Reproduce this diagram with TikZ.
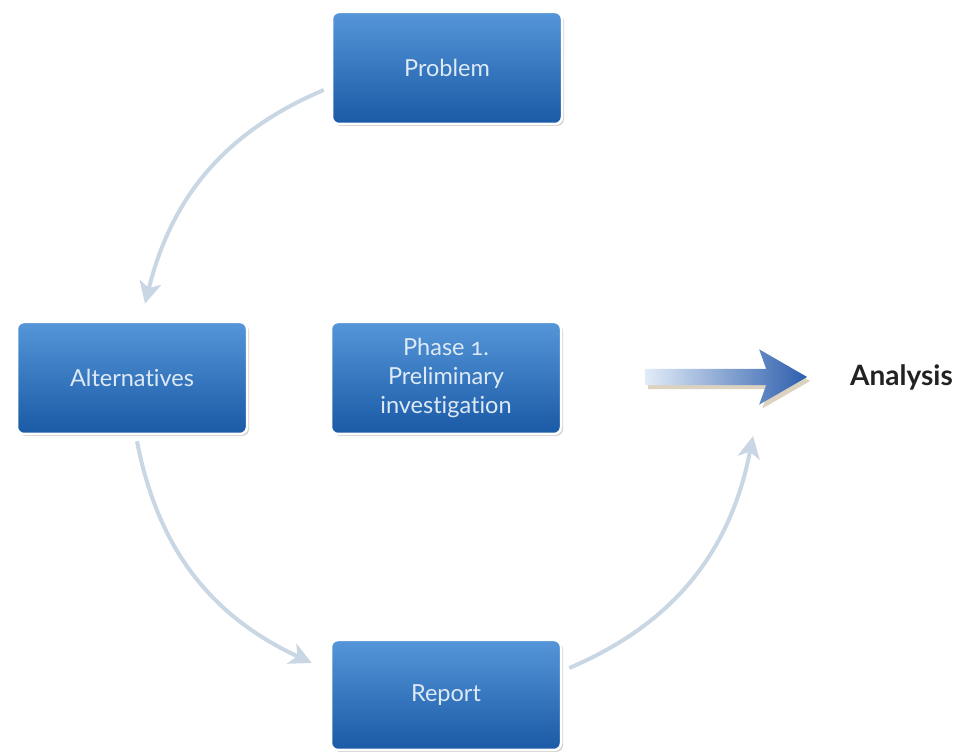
\documentclass[tikz,border=0pt]{standalone}
\usepackage{fontspec}
\setmainfont[Numbers=OldStyle, Ligatures=NoCommon]{Lato}
\usetikzlibrary{arrows.meta,shadows,shapes.arrows,positioning}

\definecolor{boxtop}{HTML}{5595D8}
\definecolor{boxmid}{HTML}{2D71C1}
\definecolor{boxbot}{HTML}{1A5AA6}
\definecolor{boxtext}{HTML}{DDE9F5}
\definecolor{flowgray}{HTML}{C8D7E3}
\definecolor{arrowpale}{HTML}{E2ECF7}
\definecolor{arrowblue}{HTML}{2D5EAD}
\definecolor{tan}{HTML}{DCD2C0}
\definecolor{inkblack}{HTML}{222222}

\begin{document}
\begin{tikzpicture}[x=1pt, y=1pt,
    phasebox/.style={rectangle, rounded corners=7pt, draw=white, line width=2.5pt,
        top color=boxtop, middle color=boxmid, bottom color=boxbot,
        drop shadow={shadow xshift=2pt, shadow yshift=-2pt, fill=black, opacity=0.18},
        minimum width=230pt, minimum height=112pt, text=boxtext,
        font=\fontsize{23.5}{29}\selectfont, align=center},
    flow/.style={draw=flowgray, line width=4pt,
        -{Stealth[length=22pt, width=22pt, inset=6pt]}}
    ]
    \useasboundingbox (0,0) rectangle (959,754);

    % Boxes
    \node[phasebox] (prob) at (447,686) {Problem};
    \node[phasebox] (alt) at (132,376) {Alternatives};
    \node[phasebox] (phase) at (446,376) {Phase 1.\\Preliminary\\investigation};
    \node[phasebox, minimum height=110pt] (rep) at (446,59) {Report};

    % Arrow to the next phase
    \node[single arrow, minimum height=162pt, minimum width=55pt, inner sep=8pt,
        single arrow head extend=19.5pt, single arrow head indent=7pt,
        single arrow tip angle=60,
        left color=arrowpale, right color=arrowblue,
        drop shadow={shadow xshift=3pt, shadow yshift=-4pt, fill=tan, opacity=1}]
        (adv) at (719,377) {};
    \node[anchor=west, text=inkblack, inner sep=0pt,
        font=\fontsize{28}{33}\selectfont\bfseries] (ana) at (850,377) {Analysis};

    % Cycle
    \coordinate (ret) at (753,318);
    \draw[flow] ([shift={(-7,-22)}]prob.west) to[out=203, in=76] ([shift={(13,17)}]alt.north);
    \draw[flow] ([shift={(5,-6)}]alt.south) to[out=281, in=155] ([shift={(-18,32)}]rep.west);
    \draw[flow] ([shift={(7,27)}]rep.east) to[out=23, in=259] (ret);
\end{tikzpicture}
\end{document}
